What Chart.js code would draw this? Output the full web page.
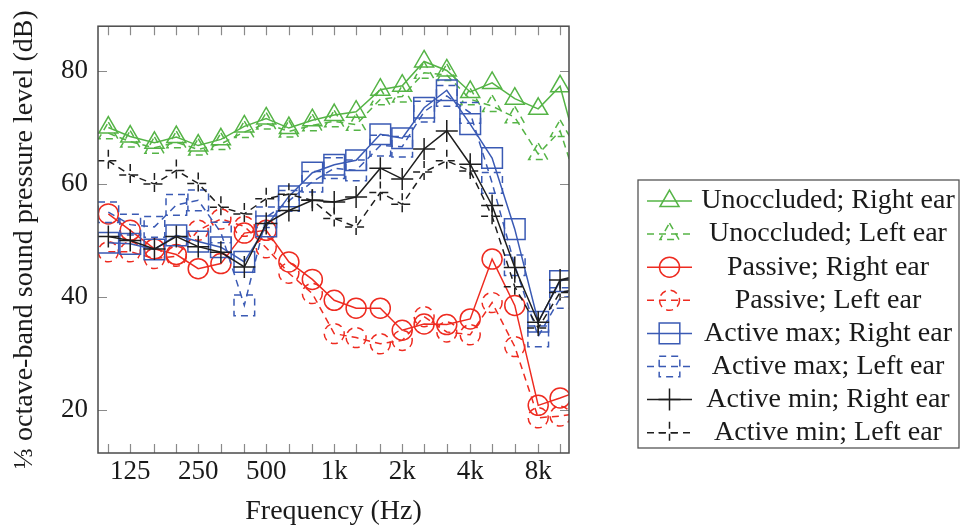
<!DOCTYPE html>
<html><head><meta charset="utf-8">
<script src="https://cdn.jsdelivr.net/npm/chart.js@4.4.1/dist/chart.umd.min.js"></script>
<style>html,body{margin:0;padding:0;background:#fff;}canvas{display:block;}</style>
</head><body>
<canvas id="c" width="961" height="528"></canvas>
<script>
// ---- data ----
const freqs = [100,125,160,200,250,315,400,500,630,800,1000,1250,1600,2000,2500,3150,4000,5000,6300,8000,10000,12500];
const tickFreqs = [100,125,160,200,250,315,400,500,630,800,1000,1250,1600,2000,2500,3150,4000,5000,6300,8000,10000];
const tickLabelMap = {125:'125',250:'250',500:'500',1000:'1k',2000:'2k',4000:'4k',8000:'8k'};
const yTickValues = [20,40,60,80];
const seriesLabels = ['Unoccluded; Right ear','Unoccluded; Left ear','Passive; Right ear','Passive; Left ear',
  'Active max; Right ear','Active max; Left ear','Active min; Right ear','Active min; Left ear'];

const unoccRight   = [70.0,68.4,67.3,68.3,66.8,67.9,70.2,71.6,69.9,71.3,72.2,72.8,76.7,77.4,81.7,80.1,76.3,77.9,75.1,73.3,77.3,63.0];
const unoccLeft    = [69.0,67.5,66.4,67.4,66.1,67.1,69.2,70.7,69.3,70.4,71.1,70.5,75.0,75.5,79.7,79.3,75.0,73.8,71.8,65.3,69.4,57.5];
const passiveRight = [54.7,51.8,48.5,47.5,45.0,45.9,51.3,51.8,46.2,43.1,39.4,38.0,38.0,34.1,35.2,35.1,36.1,46.7,38.5,20.8,22.1,23.5];
const passiveLeft  = [48.0,48.0,46.8,47.2,51.8,53.8,52.5,48.7,44.2,40.6,33.5,32.8,31.7,32.3,36.5,33.8,33.3,39.0,31.2,18.6,18.9,19.5];
const actMaxRight  = [49.6,49.4,48.4,50.9,49.8,48.8,46.2,52.5,57.8,62.0,63.4,64.2,68.8,68.1,73.5,76.6,70.6,64.6,52.0,35.6,42.8,44.0];
const actMaxLeft   = [55.0,52.8,52.4,56.3,57.1,51.4,38.5,54.1,57.0,60.4,62.8,62.4,66.8,66.6,72.8,75.6,72.6,60.2,45.6,33.0,39.8,40.5];
const actMinRight  = [50.7,50.0,48.5,50.7,48.9,47.9,45.3,53.0,55.3,57.1,56.8,57.7,62.8,60.9,66.2,69.4,63.5,56.2,45.2,35.5,43.0,44.0];
const actMinLeft   = [64.1,61.6,60.0,62.4,60.1,55.9,54.7,57.4,58.2,57.1,53.9,52.4,58.5,56.4,62.1,64.1,62.3,54.3,41.8,34.5,40.8,41.5];

// ---- styles ----
const X_MIN = 90, X_MAX = 10950, Y_MIN = 12.36, Y_MAX = 87.94;
const GREEN = '#55b446', RED = '#ee2b20', BLUE = '#3a5ab4', BLACK = '#1e1e1e';
const DASH = [7, 5];
const FONT = "'Liberation Serif', 'DejaVu Serif', serif";
const TEXT = '#1a1a1a';

const specs = [
  {values: unoccRight,   color: GREEN, dashed: false, style: 'triangle', r: 11},
  {values: unoccLeft,    color: GREEN, dashed: true,  style: 'triangle', r: 11},
  {values: passiveRight, color: RED,   dashed: false, style: 'circle',   r: 10},
  {values: passiveLeft,  color: RED,   dashed: true,  style: 'circle',   r: 10},
  {values: actMaxRight,  color: BLUE,  dashed: false, style: 'rect',     r: 14.6},
  {values: actMaxLeft,   color: BLUE,  dashed: true,  style: 'rect',     r: 14.6},
  {values: actMinRight,  color: BLACK, dashed: false, style: 'cross',    r: 11},
  {values: actMinLeft,   color: BLACK, dashed: true,  style: 'cross',    r: 11}
];

const datasets = specs.map((s, i) => ({
  label: seriesLabels[i],
  data: freqs.map((f, j) => ({x: f, y: s.values[j]})),
  borderColor: s.color,
  backgroundColor: 'rgba(0,0,0,0)',
  borderWidth: 1.5,
  borderDash: s.dashed ? DASH : [],
  pointStyle: s.style,
  pointRadius: c => (freqs[c.dataIndex] > X_MAX ? 0 : s.r),
  pointHoverRadius: 0,
  pointBorderWidth: 1.5,
  pointBorderColor: s.color,
  pointBackgroundColor: 'rgba(0,0,0,0)',
  tension: 0,
  fill: false,
  clip: 0,
  order: specs.length - 1 - i
}));

const dashMarks = {
  id: 'dashMarks',
  beforeDatasetDraw(chart, args) { if (specs[args.index].dashed) chart.ctx.setLineDash(DASH); },
  afterDatasetDraw(chart) { chart.ctx.setLineDash([]); }
};

const frame = {
  id: 'frame',
  afterDatasetsDraw(chart) {
    const {ctx, chartArea: a, scales: {x, y}} = chart;
    ctx.save();
    ctx.setLineDash([]);
    ctx.strokeStyle = '#8a8a8a';
    ctx.lineWidth = 1.2;
    const L = 9;
    ctx.beginPath();
    x.ticks.forEach(t => {
      const px = Math.round(x.getPixelForValue(t.value)) + 0.5;
      ctx.moveTo(px, a.bottom); ctx.lineTo(px, a.bottom - L);
      ctx.moveTo(px, a.top); ctx.lineTo(px, a.top + L);
    });
    y.ticks.forEach(t => {
      const py = Math.round(y.getPixelForValue(t.value)) + 0.5;
      ctx.moveTo(a.left, py); ctx.lineTo(a.left + L, py);
      ctx.moveTo(a.right, py); ctx.lineTo(a.right - L, py);
    });
    ctx.stroke();
    ctx.strokeStyle = '#4a4a4a';
    ctx.lineWidth = 1.5;
    ctx.strokeRect(a.left, a.top, a.right - a.left, a.bottom - a.top);
    ctx.restore();
  }
};

const legendBox = {
  id: 'legendBox',
  afterDraw(chart) {
    const ctx = chart.ctx;
    const box = {left: 638, top: 180, right: 959, bottom: 448};
    const rowTop = 201, rowStep = 33.1;
    ctx.save();
    ctx.strokeStyle = '#555';
    ctx.lineWidth = 1.3;
    ctx.setLineDash([]);
    ctx.strokeRect(box.left, box.top, box.right - box.left, box.bottom - box.top);
    chart.data.datasets.forEach((ds, i) => {
      const s = specs[i];
      const yy = rowTop + i * rowStep;
      ctx.setLineDash(s.dashed ? DASH : []);
      ctx.strokeStyle = s.color;
      ctx.lineWidth = 1.5;
      ctx.beginPath();
      ctx.moveTo(647, yy); ctx.lineTo(692, yy);
      ctx.stroke();
      ctx.fillStyle = 'rgba(0,0,0,0)';
      if (Chart.helpers && Chart.helpers.drawPoint) {
        Chart.helpers.drawPoint(ctx, {pointStyle: s.style, radius: s.r, rotation: 0, borderWidth: 1.5}, 669.5, yy);
      }
      ctx.setLineDash([]);
      ctx.fillStyle = TEXT;
      ctx.font = "28px " + FONT;
      ctx.textAlign = 'center';
      ctx.textBaseline = 'middle';
      ctx.fillText(ds.label, 828, yy);
    });
    ctx.restore();
  }
};

Chart.defaults.font.family = FONT;
Chart.defaults.color = TEXT;

new Chart(document.getElementById('c'), {
  type: 'line',
  data: {datasets},
  options: {
    responsive: false,
    animation: false,
    events: [],
    layout: {padding: {top: 25, right: 392, left: 0, bottom: 0}},
    plugins: {legend: {display: false}, tooltip: {enabled: false}},
    scales: {
      x: {
        type: 'logarithmic',
        min: X_MIN, max: X_MAX,
        afterBuildTicks: sc => { sc.ticks = tickFreqs.map(v => ({value: v})); },
        afterFit: sc => { sc.height = 75; },
        grid: {display: false, drawTicks: false},
        border: {display: false},
        ticks: {
          autoSkip: false, maxRotation: 0, minRotation: 0, padding: 3,
          font: {size: 27}, color: TEXT,
          callback: v => tickLabelMap[v] || ''
        },
        title: {display: true, text: 'Frequency (Hz)', font: {size: 28, lineHeight: 1.14}, padding: {top: 0, bottom: 0}, color: TEXT}
      },
      y: {
        type: 'linear',
        min: Y_MIN, max: Y_MAX,
        afterBuildTicks: sc => { sc.ticks = yTickValues.map(v => ({value: v})); },
        afterFit: sc => { sc.width = 98; },
        grid: {display: false, drawTicks: false},
        border: {display: false},
        ticks: {padding: 10, font: {size: 27}, color: TEXT, callback: v => String(v)},
        title: {display: true, text: '\u2153 octave-band sound pressure level (dB)', font: {size: 28, lineHeight: 1.14}, padding: {top: 9, bottom: 0}, color: TEXT}
      }
    }
  },
  plugins: [dashMarks, frame, legendBox]
});
</script>
</body></html>
